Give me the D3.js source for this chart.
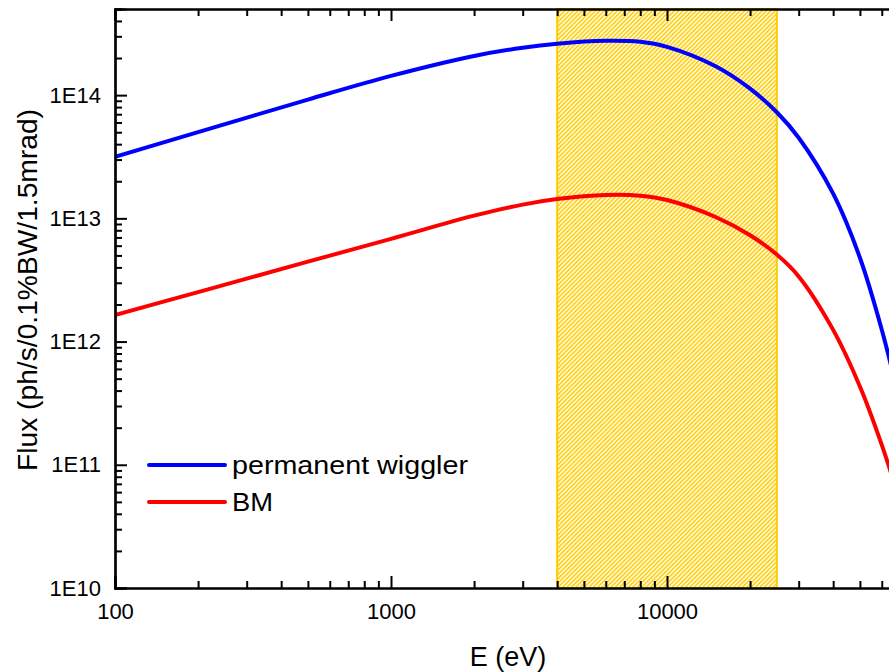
<!DOCTYPE html>
<html lang="en">
<head>
    <meta charset="UTF-8">
    <title>Flux</title>
    <script src="https://cdn.jsdelivr.net/npm/d3@7"></script>
    <style>
        body {
            margin: 0;
            background: #fff;
        }

        #graphDiv {
            width: 889px;
            height: 672px;
            overflow: hidden;
        }

        text {
            font-family: "Liberation Sans", Arial, sans-serif;
            fill: #000;
        }
    </style>
</head>
<body>
<div id="graphDiv"></div>
<script>
    // photon energy (eV)
    var energy = [100, 200, 500, 1000, 2000, 3000, 4000, 6000, 8000, 10000, 15000, 20000, 25000, 30000, 40000, 50000, 60000, 70000];
    // flux, ph/s/0.1%BW/1.5mrad
    var wiggler = [3.15e13, 5.01e13, 9.20e13, 1.432e14, 2.078e14, 2.426e14, 2.615e14, 2.76e14, 2.709e14, 2.463e14, 1.714e14, 1.128e14, 7.26e13, 4.51e13, 1.585e13, 4.79e12, 1.248e12, 3.13e11];
    var bm = [1.643e12, 2.52e12, 4.45e12, 6.82e12, 1.051e13, 1.293e13, 1.433e13, 1.547e13, 1.527e13, 1.409e13, 1.026e13, 7.29e12, 5.08e12, 3.38e12, 1.244e12, 4.32e11, 1.45e11, 4.96e10];

    var seriesNames = ["permanent wiggler", "BM"];
    var seriesColors = ["#0000ff", "#ff0000"];

    var xLabelled = [100, 1000, 10000];
    var xMajor = [100, 1000, 10000, 100000];
    var xMinor = [200, 300, 400, 500, 600, 700, 800, 900, 2000, 3000, 4000, 5000, 6000, 7000, 8000, 9000, 20000, 30000, 40000, 50000, 60000, 70000, 80000, 90000];
    var yMajor = [1e10, 1e11, 1e12, 1e13, 1e14];
    var yMinorMult = [2, 3, 4, 5, 6, 7, 8, 9];

    // shaded energy window
    var bandRange = [4000, 25000];

    function drawChart() {
        var padL = 115, padR = 943, padT = 9, padB = 588;

        var yMinor = [];
        yMajor.forEach(function (d) {
            yMinorMult.forEach(function (k) {
                if (d * k <= 5e14) yMinor.push(d * k);
            });
        });

        var svg = d3.select("#graphDiv").append("svg")
            .attr("width", 889)
            .attr("height", 672);

        var x = d3.scaleLog().domain([100, 100000]).range([padL, padR]);
        var y = d3.scaleLog().domain([1e10, 5e14]).range([padB, padT]);

        var defs = svg.append("defs");
        var pat = defs.append("pattern")
            .attr("id", "hatch")
            .attr("patternUnits", "userSpaceOnUse")
            .attr("width", 3.1)
            .attr("height", 3.1)
            .attr("patternTransform", "rotate(45)");
        pat.append("rect").attr("width", 3.1).attr("height", 3.1).attr("fill", "#fff");
        pat.append("rect").attr("width", 1.8).attr("height", 3.1).attr("fill", "#ffd21a");

        defs.append("clipPath").attr("id", "plotClip")
            .append("rect")
            .attr("x", padL).attr("y", padT)
            .attr("width", padR - padL).attr("height", padB - padT);

        // hatched band
        svg.append("rect")
            .attr("x", x(bandRange[0]))
            .attr("y", padT)
            .attr("width", x(bandRange[1]) - x(bandRange[0]))
            .attr("height", padB - padT)
            .attr("fill", "url(#hatch)")
            .attr("stroke", "#ffcc00")
            .attr("stroke-width", 2);

        var line = d3.line()
            .x(function (d) { return x(d[0]); })
            .y(function (d) { return y(d[1]); })
            .curve(d3.curveCatmullRom.alpha(0.5));

        var plot = svg.append("g").attr("clip-path", "url(#plotClip)");
        [wiggler, bm].forEach(function (vals, i) {
            var pts = energy.map(function (e, j) { return [e, vals[j]]; });
            plot.append("path")
                .attr("d", line(pts))
                .attr("fill", "none")
                .attr("stroke", seriesColors[i])
                .attr("stroke-width", 4);
        });

        // axes, ticks pointing inward
        function styleAxis(g) {
            g.select(".domain").attr("stroke", "#000").attr("stroke-width", 2.2);
            g.selectAll(".tick line").attr("stroke", "#000").attr("stroke-width", 2);
            g.selectAll("text").style("font-size", "22px").attr("fill", "#000");
        }

        var fmtX = function (d) { return xLabelled.indexOf(d) >= 0 ? d3.format("d")(d) : ""; };
        var fmtY = function (d) { return "1E" + Math.round(Math.log10(d)); };

        // bottom
        svg.append("g").attr("transform", "translate(0," + padB + ")")
            .call(d3.axisBottom(x).tickValues(xMinor).tickSize(-7).tickFormat(""))
            .call(styleAxis);
        svg.append("g").attr("transform", "translate(0," + padB + ")")
            .call(d3.axisBottom(x).tickValues(xMajor).tickSize(-12).tickPadding(15).tickFormat(fmtX))
            .call(styleAxis);
        // top
        svg.append("g").attr("transform", "translate(0," + padT + ")")
            .call(d3.axisTop(x).tickValues(xMinor).tickSize(-7).tickFormat(""))
            .call(styleAxis);
        svg.append("g").attr("transform", "translate(0," + padT + ")")
            .call(d3.axisTop(x).tickValues(xMajor).tickSize(-12).tickFormat(""))
            .call(styleAxis);
        // left
        svg.append("g").attr("transform", "translate(" + padL + ",0)")
            .call(d3.axisLeft(y).tickValues(yMinor).tickSize(-7).tickFormat(""))
            .call(styleAxis);
        svg.append("g").attr("transform", "translate(" + padL + ",0)")
            .call(d3.axisLeft(y).tickValues(yMajor).tickSize(-12).tickPadding(14).tickFormat(fmtY))
            .call(styleAxis);
        // right
        svg.append("g").attr("transform", "translate(" + padR + ",0)")
            .call(d3.axisRight(y).tickValues(yMinor).tickSize(-7).tickFormat(""))
            .call(styleAxis);
        svg.append("g").attr("transform", "translate(" + padR + ",0)")
            .call(d3.axisRight(y).tickValues(yMajor).tickSize(-12).tickFormat(""))
            .call(styleAxis);

        // axis titles
        svg.append("text")
            .attr("x", 508)
            .attr("y", 666)
            .attr("text-anchor", "middle")
            .style("font-size", "27px")
            .text("E (eV)");

        svg.append("text")
            .attr("transform", "translate(37,290) rotate(-90)")
            .attr("text-anchor", "middle")
            .style("font-size", "27px")
            .attr("textLength", 362)
            .attr("lengthAdjust", "spacingAndGlyphs")
            .text("Flux (ph/s/0.1%BW/1.5mrad)");

        // legend
        var legendY = [465, 502];
        var legendW = [236, 41];
        seriesNames.forEach(function (name, i) {
            svg.append("line")
                .attr("x1", 149).attr("x2", 225)
                .attr("y1", legendY[i]).attr("y2", legendY[i])
                .attr("stroke", seriesColors[i])
                .attr("stroke-width", 4)
                .attr("stroke-linecap", "round");
            svg.append("text")
                .attr("x", 232)
                .attr("y", legendY[i])
                .attr("dy", "0.36em")
                .style("font-size", "26px")
                .attr("textLength", legendW[i])
                .attr("lengthAdjust", "spacingAndGlyphs")
                .text(name);
        });
    }

    drawChart();
</script>
</body>
</html>
